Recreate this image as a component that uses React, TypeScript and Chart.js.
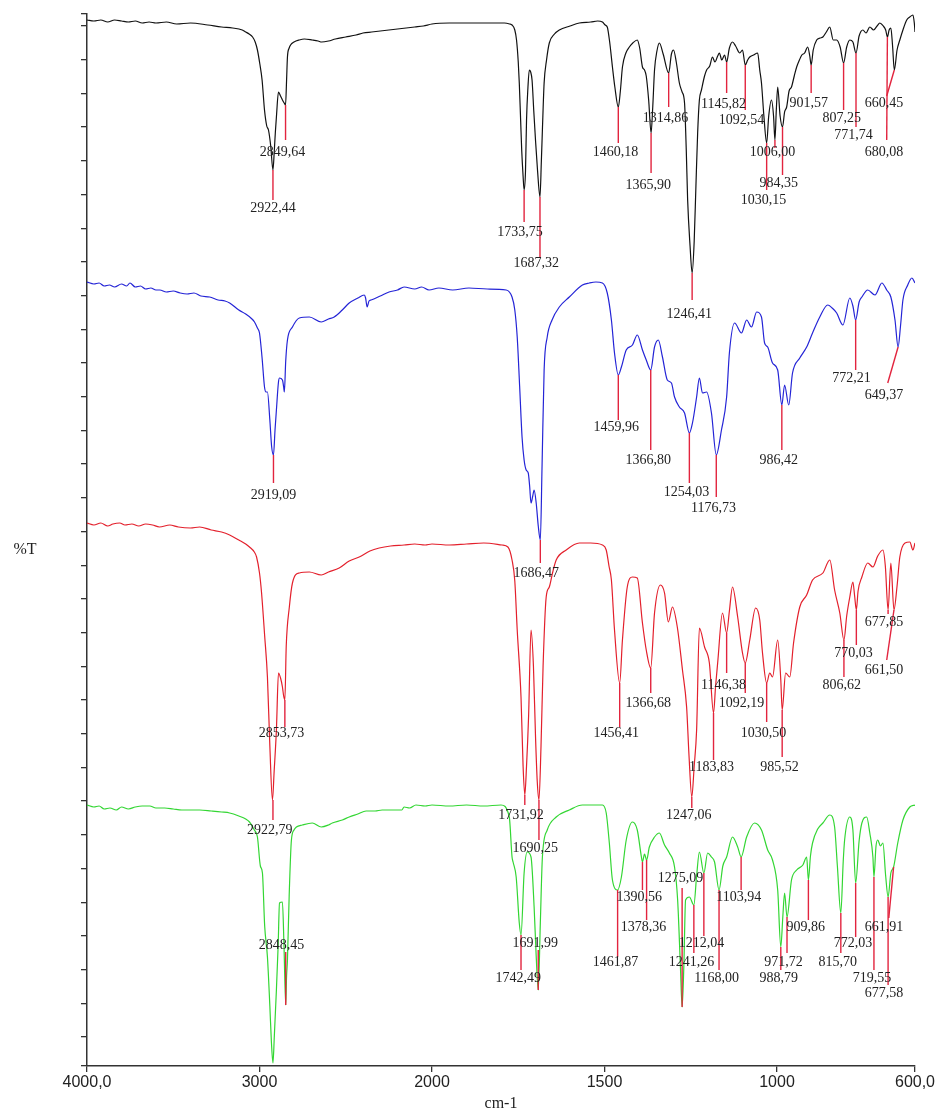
import React, { useEffect, useRef } from "react";
import { Chart, registerables, LinearScale } from "chart.js";

Chart.register(...registerables);

// ---------- axis definitions ----------
const X_TICKS = [4000, 3000, 2000, 1500, 1000, 600];
const X_TICK_LABELS = ["4000,0", "3000", "2000", "1500", "1000", "600,0"];
const X_MIN = 600;
const X_MAX = 4000;
const X_BREAK = 2000; // above this the wavenumber axis is compressed 2:1
const Y_MIN = 0;
const Y_MAX = 105.2;
const Y_TICKS = [
  0, 2.9, 6.27, 9.64, 13.01, 16.38, 19.75, 23.12, 26.49, 29.86, 33.23, 36.6, 39.97, 43.34,
  46.71, 50.08, 53.45, 56.82, 60.19, 63.56, 66.93, 70.3, 73.67, 77.04, 80.41, 83.78, 87.15,
  90.52, 93.89, 97.26, 100.63, 104.0, 105.2,
];
const X_TITLE = "cm-1";
const Y_TITLE = "%T";

// ---------- spectra: [wavenumber cm-1, %T (stacked, offset)] ----------
const SPECTRUM_BLACK: [number, number][] = [
  [4000, 104.6], [3960, 104.5], [3920, 104.6], [3880, 104.4], [3840, 104.6], [3800, 104.5],
  [3760, 104.4], [3720, 104.5], [3680, 104.3], [3640, 104.4], [3600, 104.3], [3540, 104.4],
  [3480, 104.2], [3400, 104.3], [3300, 104.1], [3220, 103.9], [3156, 103.8], [3100, 103.6],
  [3080, 103.4], [3060, 103.2], [3040, 102.9], [3025, 102.4], [3012, 101.6], [2998, 100.2],
  [2985, 98.6], [2971, 95.6], [2958, 94.0], [2948, 93.6], [2935, 92.0], [2922, 89.6],
  [2914, 91.6], [2908, 93.4], [2902, 94.9], [2890, 97.4], [2878, 97.0], [2867, 96.6],
  [2857, 96.3], [2849, 96.1], [2843, 98.6], [2838, 100.9], [2828, 101.8], [2820, 102.1],
  [2800, 102.4], [2770, 102.6], [2740, 102.7], [2694, 102.6], [2660, 102.5], [2640, 102.4],
  [2600, 102.5], [2560, 102.7], [2500, 102.9], [2440, 103.1], [2400, 103.3], [2350, 103.4],
  [2300, 103.5], [2250, 103.6], [2200, 103.7], [2150, 103.8], [2100, 103.9], [2050, 104.0],
  [2000, 104.2], [1950, 104.3], [1900, 104.3], [1863, 104.3], [1820, 104.3], [1790, 104.3],
  [1775, 104.2], [1768, 104.1], [1760, 103.6], [1755, 102.6], [1750, 100.4], [1747, 98.3],
  [1743, 94.5], [1740, 91.6], [1736, 89.0], [1733, 87.6], [1729, 89.5], [1726, 94.6],
  [1722, 97.8], [1718, 99.6], [1714, 99.4], [1710, 98.6], [1705, 95.5], [1700, 92.6],
  [1694, 89.5], [1687, 86.9], [1683, 90.5], [1680, 93.6], [1675, 98.3], [1668, 100.6],
  [1660, 102.3], [1645, 103.2], [1631, 103.6], [1600, 104.0], [1573, 104.3], [1540, 104.4],
  [1520, 104.5], [1506, 104.4], [1498, 104.1], [1492, 103.9], [1485, 102.4], [1477, 99.9],
  [1470, 97.9], [1460, 95.9], [1454, 97.5], [1448, 99.9], [1438, 101.3], [1428, 101.9],
  [1418, 102.3], [1405, 102.6], [1398, 101.8], [1390, 99.9], [1384, 99.6], [1379, 99.0],
  [1372, 96.6], [1365, 93.3], [1360, 96.0], [1355, 99.6], [1348, 101.5], [1341, 102.3],
  [1330, 101.2], [1314, 99.3], [1306, 101.2], [1300, 101.6], [1292, 100.4], [1283, 98.3],
  [1275, 97.4], [1268, 96.3], [1263, 91.6], [1259, 86.6], [1252, 82.0], [1246, 79.3],
  [1240, 82.5], [1235, 88.0], [1230, 93.3], [1225, 96.6], [1219, 97.6], [1210, 99.0],
  [1204, 99.6], [1195, 100.0], [1187, 100.9], [1180, 100.4], [1172, 101.0], [1167, 101.3],
  [1160, 100.6], [1152, 101.1], [1146, 100.4], [1138, 101.8], [1129, 102.4], [1120, 102.0],
  [1108, 101.3], [1100, 101.6], [1092, 100.1], [1085, 100.6], [1079, 100.9], [1068, 101.1],
  [1056, 101.3], [1050, 99.6], [1045, 98.3], [1038, 95.0], [1030, 92.3], [1024, 95.0],
  [1016, 96.6], [1010, 95.0], [1006, 92.6], [1002, 95.6], [998, 97.9], [991, 95.0],
  [984, 93.9], [978, 95.4], [972, 95.9], [965, 97.5], [958, 97.9], [950, 99.0], [943, 99.9],
  [935, 100.6], [928, 101.1], [920, 101.3], [911, 101.9], [905, 101.0], [901, 100.1],
  [895, 101.6], [885, 102.6], [875, 102.8], [867, 102.9], [857, 103.4], [847, 103.9],
  [837, 102.6], [827, 102.6], [817, 101.9], [807, 100.3], [798, 101.9], [789, 102.6],
  [780, 102.4], [771, 101.3], [762, 103.0], [751, 103.6], [742, 103.3], [731, 103.9],
  [720, 103.6], [710, 104.0], [702, 104.3], [692, 104.0], [685, 103.6], [680, 102.9],
  [675, 103.6], [670, 103.8], [665, 102.0], [660, 99.6], [652, 101.6], [644, 102.6],
  [635, 103.6], [624, 104.6], [615, 104.9], [606, 105.1], [602, 104.3], [600, 103.4],
];

const SPECTRUM_BLUE: [number, number][] = [
  [4000, 78.4], [3960, 78.2], [3930, 78.3], [3900, 78.0], [3870, 78.1], [3840, 77.9],
  [3800, 78.2], [3770, 78.0], [3751, 78.3], [3720, 77.9], [3690, 78.0], [3660, 77.7],
  [3630, 77.8], [3600, 77.6], [3578, 77.6], [3540, 77.4], [3500, 77.5], [3460, 77.3],
  [3420, 77.2], [3380, 77.3], [3340, 77.0], [3289, 76.9], [3240, 76.6], [3200, 76.5],
  [3173, 76.3], [3120, 75.6], [3080, 75.2], [3050, 74.8], [3029, 74.4], [3012, 73.8],
  [3000, 73.3], [2985, 70.8], [2971, 67.9], [2962, 67.4], [2954, 67.4], [2940, 64.6],
  [2930, 62.0], [2919, 61.1], [2910, 63.6], [2902, 65.6], [2890, 68.4], [2884, 68.8],
  [2867, 68.6], [2860, 67.9], [2856, 67.4], [2848, 70.5], [2838, 72.6], [2809, 73.9],
  [2769, 74.8], [2711, 74.9], [2642, 74.4], [2600, 74.7], [2567, 74.9], [2520, 75.6],
  [2480, 76.3], [2430, 76.8], [2393, 77.1], [2385, 76.8], [2376, 75.9], [2365, 76.5],
  [2353, 76.6], [2300, 77.0], [2249, 77.4], [2200, 77.6], [2162, 77.9], [2100, 77.7],
  [2060, 77.9], [2017, 77.6], [1980, 77.8], [1940, 77.6], [1893, 77.8], [1840, 77.7],
  [1785, 77.6], [1768, 76.9], [1760, 75.6], [1753, 72.9], [1746, 68.0], [1739, 62.9],
  [1733, 60.6], [1727, 59.6], [1721, 59.3], [1717, 58.0], [1713, 56.3], [1708, 57.0],
  [1704, 57.6], [1698, 56.3], [1692, 54.0], [1686, 52.6], [1681, 60.0], [1675, 69.6],
  [1666, 72.9], [1652, 74.6], [1631, 75.9], [1602, 76.9], [1564, 78.1], [1544, 78.3],
  [1525, 78.4], [1506, 78.3], [1492, 77.3], [1480, 74.6], [1471, 71.3], [1460, 69.1],
  [1451, 69.9], [1437, 71.6], [1419, 72.1], [1405, 73.1], [1390, 71.6], [1379, 70.6],
  [1366, 69.6], [1355, 71.9], [1344, 72.6], [1332, 70.9], [1318, 68.6], [1306, 68.3],
  [1297, 66.9], [1283, 65.9], [1268, 65.3], [1254, 63.3], [1245, 64.3], [1233, 66.9],
  [1225, 68.8], [1216, 67.3], [1204, 67.4], [1190, 65.3], [1176, 61.1], [1161, 63.6],
  [1146, 66.9], [1138, 71.3], [1123, 74.3], [1103, 73.3], [1088, 74.6], [1074, 73.9],
  [1059, 75.4], [1045, 74.9], [1036, 72.3], [1027, 71.9], [1013, 70.3], [998, 69.6],
  [986, 66.1], [978, 68.1], [966, 66.1], [955, 69.3], [934, 70.8], [914, 71.9],
  [897, 73.3], [876, 74.9], [853, 76.1], [840, 75.8], [827, 75.3], [809, 74.1],
  [789, 76.8], [780, 76.0], [772, 74.6], [762, 76.4], [754, 76.9], [737, 77.6],
  [716, 77.1], [696, 78.3], [682, 77.6], [670, 76.9], [658, 74.6], [649, 71.9],
  [642, 74.0], [635, 76.6], [621, 78.1], [609, 78.8], [600, 78.3],
];

const SPECTRUM_RED: [number, number][] = [
  [4000, 54.3], [3960, 54.1], [3920, 54.3], [3880, 54.0], [3850, 54.2], [3810, 54.3],
  [3780, 54.1], [3740, 54.2], [3700, 54.0], [3660, 54.2], [3620, 54.1], [3580, 53.9],
  [3520, 54.1], [3470, 53.9], [3400, 53.8], [3347, 53.9], [3280, 53.6], [3220, 53.4],
  [3173, 53.1], [3120, 52.6], [3080, 52.2], [3058, 51.9], [3030, 51.4], [3017, 50.9],
  [3000, 49.3], [2988, 47.3], [2970, 43.0], [2954, 38.9], [2940, 32.0], [2925, 26.6],
  [2915, 29.5], [2902, 33.6], [2890, 39.3], [2878, 38.8], [2867, 37.9], [2860, 37.0],
  [2853, 36.6], [2845, 42.0], [2827, 45.9], [2809, 48.3], [2769, 49.3], [2711, 49.4],
  [2642, 49.1], [2600, 49.4], [2538, 49.8], [2480, 50.5], [2422, 50.9], [2360, 51.5],
  [2306, 51.8], [2240, 52.0], [2162, 52.1], [2100, 52.2], [2040, 52.1], [2000, 52.2],
  [1950, 52.1], [1900, 52.2], [1850, 52.3], [1797, 52.1], [1780, 51.9], [1768, 50.6],
  [1760, 48.5], [1753, 43.6], [1742, 36.9], [1736, 30.0], [1731, 27.1], [1726, 30.0],
  [1720, 35.0], [1713, 43.6], [1706, 40.0], [1700, 33.0], [1695, 28.5], [1690, 26.6],
  [1684, 32.0], [1678, 40.0], [1669, 46.9], [1660, 47.9], [1650, 49.4], [1640, 50.6],
  [1611, 51.6], [1573, 52.3], [1540, 52.3], [1506, 52.1], [1495, 51.6], [1487, 50.0],
  [1480, 48.6], [1471, 43.6], [1456, 38.3], [1448, 42.6], [1434, 47.9], [1419, 48.9],
  [1405, 48.8], [1390, 44.3], [1379, 41.6], [1366, 39.8], [1355, 45.3], [1338, 48.1],
  [1326, 47.3], [1315, 44.4], [1303, 45.9], [1289, 43.9], [1274, 39.6], [1262, 35.9],
  [1255, 31.0], [1247, 26.9], [1240, 30.0], [1233, 33.6], [1225, 43.8], [1210, 41.9],
  [1196, 40.3], [1184, 35.3], [1178, 38.0], [1172, 40.3], [1158, 45.3], [1146, 43.3],
  [1138, 45.5], [1129, 47.9], [1114, 44.9], [1100, 41.3], [1092, 40.3], [1079, 42.6],
  [1062, 45.8], [1050, 44.6], [1042, 41.3], [1030, 38.3], [1021, 39.3], [1013, 38.9],
  [998, 42.6], [989, 38.6], [985, 35.6], [975, 39.3], [963, 38.9], [952, 42.3],
  [934, 45.9], [914, 47.1], [897, 48.6], [867, 49.3], [847, 50.6], [833, 47.6],
  [818, 45.3], [806, 42.6], [798, 45.0], [789, 46.9], [780, 48.4], [775, 47.0],
  [770, 45.6], [765, 47.5], [754, 48.9], [737, 50.3], [722, 49.9], [708, 51.0],
  [693, 51.6], [686, 50.0], [678, 45.6], [670, 50.3], [661, 45.6], [652, 48.0],
  [644, 50.9], [629, 52.3], [615, 52.4], [606, 51.6], [600, 52.3],
];

const SPECTRUM_GREEN: [number, number][] = [
  [4000, 26.1], [3960, 25.9], [3930, 26.0], [3900, 25.7], [3867, 25.8], [3830, 25.6],
  [3800, 25.9], [3760, 25.7], [3720, 25.9], [3680, 26.0], [3636, 26.0], [3600, 25.8],
  [3550, 25.8], [3500, 25.7], [3450, 25.6], [3400, 25.6], [3347, 25.6], [3280, 25.5],
  [3220, 25.4], [3173, 25.3], [3120, 25.0], [3080, 24.7], [3058, 24.4], [3030, 23.6],
  [3012, 22.9], [2995, 20.0], [2983, 19.3], [2970, 14.0], [2954, 10.9], [2940, 6.0],
  [2931, 2.4], [2922, 0.3], [2914, 3.0], [2902, 7.6], [2892, 12.0], [2884, 16.3],
  [2867, 16.4], [2858, 12.0], [2848, 6.1], [2843, 9.0], [2838, 10.6], [2828, 17.0],
  [2815, 22.6], [2800, 23.6], [2786, 23.9], [2752, 24.1], [2694, 24.3], [2642, 23.9],
  [2600, 24.1], [2578, 24.3], [2520, 24.6], [2480, 24.9], [2430, 25.2], [2382, 25.5],
  [2330, 25.5], [2289, 25.6], [2230, 25.6], [2175, 25.6], [2162, 25.9], [2130, 25.8],
  [2093, 26.1], [2040, 26.0], [2000, 26.1], [1950, 26.0], [1900, 26.1], [1850, 26.0],
  [1800, 26.1], [1776, 24.9], [1768, 20.9], [1765, 20.4], [1756, 18.9], [1747, 14.3],
  [1742, 13.1], [1733, 19.3], [1724, 21.4], [1713, 20.9], [1704, 15.9], [1698, 11.0],
  [1692, 7.6], [1686, 14.3], [1680, 20.9], [1666, 23.6], [1640, 24.9], [1602, 25.6],
  [1564, 26.1], [1506, 26.1], [1495, 25.3], [1486, 22.3], [1477, 18.6], [1462, 17.6],
  [1451, 18.9], [1437, 22.6], [1419, 24.4], [1405, 23.6], [1393, 20.9], [1390, 20.4],
  [1384, 21.2], [1378, 20.6], [1370, 21.9], [1355, 22.9], [1341, 23.3], [1326, 22.1],
  [1312, 21.3], [1297, 19.9], [1288, 16.6], [1280, 10.0], [1275, 5.9], [1270, 10.0],
  [1265, 16.6], [1254, 16.9], [1241, 16.1], [1233, 19.0], [1225, 21.4], [1212, 19.3],
  [1201, 21.3], [1190, 20.9], [1181, 20.4], [1168, 17.6], [1157, 20.0], [1146, 20.9],
  [1129, 22.9], [1114, 21.9], [1104, 20.9], [1088, 22.9], [1065, 24.3], [1045, 23.6],
  [1027, 21.6], [1013, 20.6], [998, 17.6], [989, 11.9], [983, 15.0], [978, 17.3],
  [971, 14.9], [958, 18.6], [943, 19.6], [925, 20.1], [914, 20.9], [909, 18.6],
  [903, 21.0], [897, 22.3], [882, 23.7], [867, 24.3], [847, 25.1], [833, 23.9],
  [825, 20.0], [815, 15.3], [808, 20.5], [804, 22.6], [789, 24.9], [780, 23.6],
  [772, 18.3], [762, 22.5], [754, 24.3], [740, 24.9], [731, 23.3], [722, 20.9],
  [719, 18.9], [713, 22.0], [708, 22.6], [700, 22.0], [693, 22.3], [685, 19.0],
  [678, 16.9], [670, 19.3], [662, 19.9], [650, 22.3], [635, 24.6], [615, 25.9],
  [600, 26.1],
];

// ---------- peak labels: [text, peak cm-1, %T at peak, %T at line end, label cm-1, label %T, line end cm-1?] ----------
type Peak = [string, number, number, number, number, number, number?];

const PEAKS_BLACK: Peak[] = [
  ["2922,44", 2922, 89.6, 86.6, 2922, 85.8],
  ["2849,64", 2849, 96.1, 92.6, 2867, 91.4],
  ["1733,75", 1733, 87.6, 84.4, 1745, 83.4],
  ["1687,32", 1687, 86.9, 80.9, 1698, 80.3],
  ["1460,18", 1460, 95.9, 92.3, 1468, 91.4],
  ["1365,90", 1365, 93.3, 89.3, 1373, 88.1],
  ["1314,86", 1314, 99.3, 95.9, 1323, 94.8],
  ["1246,41", 1246, 79.3, 76.6, 1254, 75.2],
  ["1145,82", 1146, 100.4, 97.3, 1155, 96.2],
  ["1092,54", 1092, 100.1, 95.6, 1103, 94.6],
  ["1006,00", 1006, 92.6, 91.8, 1013, 91.4],
  ["1030,15", 1030, 92.3, 87.6, 1039, 86.6],
  ["984,35", 984, 93.9, 89.1, 995, 88.3],
  ["901,57", 901, 100.1, 97.3, 908, 96.3],
  ["807,25", 807, 100.3, 95.6, 812, 94.8],
  ["771,74", 771, 101.3, 93.9, 778, 93.1],
  ["680,08", 680, 102.9, 92.6, 690, 91.4, 682],
  ["660,45", 660, 99.6, 97.0, 690, 96.3, 682],
];

const PEAKS_BLUE: Peak[] = [
  ["2919,09", 2919, 61.1, 58.3, 2919, 57.1],
  ["1686,47", 1686, 52.6, 50.3, 1698, 49.3],
  ["1459,96", 1460, 69.1, 64.6, 1466, 63.9],
  ["1366,80", 1366, 69.6, 61.6, 1373, 60.6],
  ["1254,03", 1254, 63.3, 58.3, 1262, 57.4],
  ["1176,73", 1176, 61.1, 56.9, 1184, 55.8],
  ["986,42", 986, 66.1, 61.6, 995, 60.6],
  ["772,21", 772, 74.6, 69.6, 784, 68.8],
  ["649,37", 649, 71.9, 68.3, 690, 67.1, 679],
];

const PEAKS_RED: Peak[] = [
  ["2922,79", 2922, 26.6, 24.6, 2940, 23.6],
  ["2853,73", 2853, 36.6, 33.9, 2873, 33.3],
  ["1731,92", 1731, 27.1, 26.1, 1742, 25.1],
  ["1690,25", 1690, 26.6, 22.6, 1701, 21.8],
  ["1456,41", 1456, 38.3, 33.9, 1466, 33.3],
  ["1366,68", 1366, 39.8, 37.3, 1373, 36.3],
  ["1247,06", 1247, 26.9, 25.8, 1256, 25.1],
  ["1183,83", 1184, 35.3, 30.6, 1190, 29.9],
  ["1146,38", 1146, 43.3, 39.3, 1155, 38.1],
  ["1092,19", 1092, 40.3, 37.3, 1103, 36.3],
  ["1030,50", 1030, 38.3, 34.4, 1039, 33.3],
  ["985,52", 985, 35.6, 30.9, 993, 29.9],
  ["806,62", 806, 42.6, 38.9, 812, 38.1],
  ["770,03", 770, 45.6, 42.1, 778, 41.3],
  ["677,85", 678, 45.6, 45.2, 690, 44.4],
  ["661,50", 661, 45.6, 40.6, 690, 39.6, 682],
];

const PEAKS_GREEN: Peak[] = [
  ["2848,45", 2848, 6.1, 11.4, 2873, 12.1],
  ["1742,49", 1742, 13.1, 9.6, 1750, 8.8],
  ["1691,99", 1692, 7.6, 11.6, 1701, 12.3],
  ["1461,87", 1462, 17.6, 10.9, 1468, 10.4],
  ["1390,56", 1390, 20.4, 17.6, 1399, 16.9],
  ["1378,36", 1378, 20.6, 14.6, 1387, 13.9],
  ["1275,09", 1275, 5.9, 17.8, 1280, 18.8],
  ["1241,26", 1241, 16.1, 11.3, 1248, 10.4],
  ["1212,04", 1212, 19.3, 13.0, 1219, 12.3],
  ["1168,00", 1168, 17.6, 9.6, 1175, 8.8],
  ["1103,94", 1104, 20.9, 17.6, 1111, 16.9],
  ["988,79", 989, 11.9, 9.6, 995, 8.8],
  ["971,72", 971, 14.9, 11.3, 981, 10.4],
  ["909,86", 909, 18.6, 14.6, 917, 13.9],
  ["815,70", 815, 15.3, 11.3, 824, 10.4],
  ["772,03", 772, 18.3, 12.9, 780, 12.3],
  ["719,55", 719, 18.9, 9.6, 725, 8.8],
  ["677,58", 678, 16.9, 8.1, 690, 7.3],
  ["661,91", 662, 19.9, 14.8, 690, 13.9, 676],
];

const SERIES = [
  { name: "A", data: SPECTRUM_BLACK, color: "#111111", peaks: PEAKS_BLACK },
  { name: "B", data: SPECTRUM_BLUE, color: "#2424d6", peaks: PEAKS_BLUE },
  { name: "C", data: SPECTRUM_RED, color: "#e3202c", peaks: PEAKS_RED },
  { name: "D", data: SPECTRUM_GREEN, color: "#33d633", peaks: PEAKS_GREEN },
];

const DROP_LINE_COLOR = "#e2243e";
const AXIS_COLOR = "#333333";

// ---------- wavenumber scale with 2:1 compression above 2000 cm-1 ----------
const compress = (v: number) => (v > X_BREAK ? X_BREAK + (v - X_BREAK) / 2 : v);
const expand = (u: number) => (u > X_BREAK ? X_BREAK + (u - X_BREAK) * 2 : u);

class WavenumberScale extends (LinearScale as any) {
  static id = "wavenumber";
  static defaults = (LinearScale as any).defaults;
  getPixelForValue(value: number) {
    if (value === null || value === undefined || isNaN(value)) return NaN;
    const a = compress(this.min);
    const b = compress(this.max);
    return this.getPixelForDecimal((compress(value) - a) / (b - a));
  }
  getValueForPixel(pixel: number) {
    const a = compress(this.min);
    const b = compress(this.max);
    return expand(a + this.getDecimalForPixel(pixel) * (b - a));
  }
}
Chart.register(WavenumberScale as any);

const peakLabelPlugin = {
  id: "peakLabels",
  afterDatasetsDraw(chart: any) {
    const { ctx, scales, chartArea } = chart;
    const xs = scales.x;
    const ys = scales.y;
    ctx.save();
    ctx.strokeStyle = DROP_LINE_COLOR;
    ctx.lineWidth = 1.4;
    SERIES.forEach((s) => {
      s.peaks.forEach((p) => {
        const [, wn, yFrom, yTo, , , wnEnd] = p;
        ctx.beginPath();
        ctx.moveTo(xs.getPixelForValue(wn), ys.getPixelForValue(yFrom));
        ctx.lineTo(xs.getPixelForValue(wnEnd ?? wn), ys.getPixelForValue(yTo));
        ctx.stroke();
      });
    });
    ctx.font = '14px "Liberation Serif", "Times New Roman", serif';
    ctx.fillStyle = "#222222";
    ctx.textAlign = "center";
    ctx.textBaseline = "middle";
    SERIES.forEach((s) => {
      s.peaks.forEach((p) => {
        const [text, , , , lx, ly] = p;
        ctx.fillText(text, xs.getPixelForValue(lx), ys.getPixelForValue(ly));
      });
    });
    // y axis title (horizontal, as in the original)
    ctx.font = '16px "Liberation Serif", "Times New Roman", serif';
    ctx.fillStyle = "#222222";
    ctx.fillText(Y_TITLE, chartArea.left - 62, (chartArea.top + chartArea.bottom) / 2 + 10);
    ctx.restore();
  },
};

export default function App() {
  const canvasRef = useRef<HTMLCanvasElement | null>(null);

  useEffect(() => {
    document.body.style.margin = "0";
    const canvas = canvasRef.current;
    if (!canvas) return;
    const chart = new Chart(canvas, {
      type: "line",
      data: {
        datasets: SERIES.map((s) => ({
          label: s.name,
          data: s.data.map(([x, y]) => ({ x, y })),
          borderColor: s.color,
          backgroundColor: s.color,
          borderWidth: 1.2,
          pointRadius: 0,
          cubicInterpolationMode: "monotone",
          fill: false,
        })),
      },
      options: {
        animation: false,
        responsive: false,
        devicePixelRatio: 1,
        layout: { padding: { left: 81, right: 24, top: 14, bottom: 1 } },
        plugins: {
          legend: { display: false },
          tooltip: { enabled: false },
        },
        scales: {
          x: {
            type: "wavenumber" as any,
            reverse: true,
            min: X_MIN,
            max: X_MAX,
            afterBuildTicks: (scale: any) => {
              scale.ticks = X_TICKS.map((v) => ({ value: v }));
            },
            ticks: {
              autoSkip: false,
              maxRotation: 0,
              padding: 3,
              color: "#222222",
              font: { family: '"Liberation Sans", Arial, sans-serif', size: 16, lineHeight: 1 },
              callback: (_v: any, i: number) => X_TICK_LABELS[i],
            },
            grid: {
              drawOnChartArea: false,
              drawTicks: true,
              tickLength: 6,
              color: AXIS_COLOR,
              lineWidth: 1.3,
            },
            border: { display: true, color: AXIS_COLOR, width: 1.5 },
            title: {
              display: true,
              text: X_TITLE,
              color: "#222222",
              font: { family: '"Liberation Serif", "Times New Roman", serif', size: 16, lineHeight: 1 },
              padding: { top: 2, bottom: 0 },
            },
          },
          y: {
            type: "linear",
            min: Y_MIN,
            max: Y_MAX,
            afterBuildTicks: (scale: any) => {
              scale.ticks = Y_TICKS.map((v) => ({ value: v }));
            },
            ticks: { display: false },
            grid: {
              drawOnChartArea: false,
              drawTicks: true,
              tickLength: 6,
              color: AXIS_COLOR,
              lineWidth: 1.3,
            },
            border: { display: true, color: AXIS_COLOR, width: 1.5 },
          },
        },
      },
      plugins: [peakLabelPlugin],
    } as any);
    return () => chart.destroy();
  }, []);

  return (
    <div style={{ width: 939, height: 1113, background: "#ffffff" }}>
      <canvas ref={canvasRef} width={939} height={1113} style={{ display: "block" }} />
    </div>
  );
}
